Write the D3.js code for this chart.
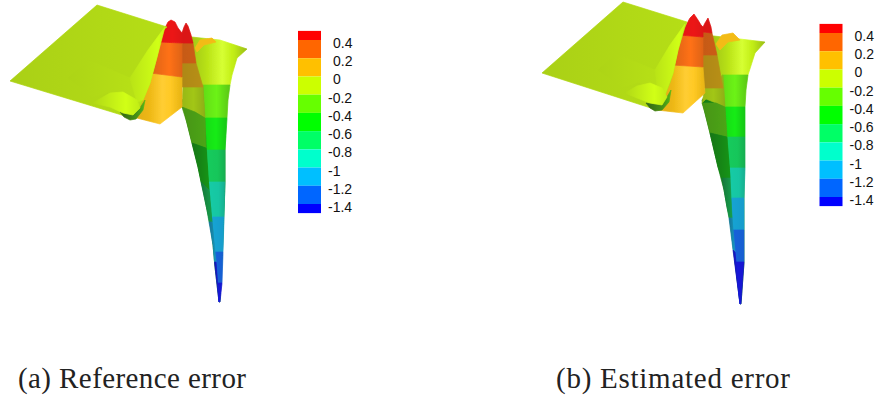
<!DOCTYPE html>
<html>
<head>
<meta charset="utf-8"/>
<title>Reference and estimated error</title>
<script src="https://d3js.org/d3.v7.min.js"></script>
<style>
    body { margin: 0; background: #fff; }
    .tick-label { font-family: "Liberation Sans"; font-size: 14px; fill: #111; }
    .caption { font-family: "Liberation Serif"; font-size: 29px; fill: #222; }
</style>
</head>
<body>
<svg id="chart" width="881" height="405"></svg>
<script>
// contour levels and their colours, lowest band first
var levels = [-1.4, -1.2, -1, -0.8, -0.6, -0.4, -0.2, 0, 0.2, 0.4];
var bandColors = ["#0000ff", "#0066ff", "#00bfff", "#00ffcc", "#00ff66", "#00ff00", "#66ff00", "#ccff00", "#ffc000", "#ff6600", "#ff0000"];
var barLimits = [-1.5, 0.5];
var captions = ["(a) Reference error", "(b) Estimated error"];

// contour band (z value) of each surface patch, in drawing order
var patchOrder = ["spike",
    "back", "backAmber", "face1", "face2", "face3", "face4", "face5", "face6", "face7",
    "hollow", "dark1", "dark2", "dark3", "dark4", "dark5",
    "ridgeOlive", "ridgeOrange", "ridgeRed",
    "colAmber", "colOrange", "colRed",
    "sheet", "plateau", "wedge", "curl", "bump"];
var patchZ = {
    spike: -0.5, sheet: -0.05, plateau: -0.05, wedge: -0.05, bump: -0.05, curl: -0.3,
    back: -0.05, backAmber: 0.1,
    face1: -0.3, face2: -0.5, face3: -0.7, face4: -0.9, face5: -1.1, face6: -1.3, face7: -1.45,
    hollow: -0.05, dark1: -0.3, dark2: -0.5, dark3: -0.7, dark4: -1.1, dark5: -1.45,
    ridgeOlive: 0.1, ridgeOrange: 0.3, ridgeRed: 0.45,
    colAmber: 0.1, colOrange: 0.3, colRed: 0.45
};

// surface outlines, x and y in plot units
var surfaceA = {
    spike: [[182,100],[205,85],[225,130],[225,183],[223,240],[220,302],[219,302],[215,267],[213,245],[210,223],[207,210],[203,190],[198,167],[193,147],[187,123]],
    sheet: [[97,5],[167,27],[163,30],[157,57],[150,83],[143,100],[138,110],[134,116],[125,116],[10,81]],
    plateau: [[68,78],[88,60],[130,78],[150,83],[140,105],[110,92],[92,97]],
    wedge: [[165,27],[157,57],[150,83],[143,100],[137,102],[130,78],[148,50]],
    bump: [[93,103],[110,93],[123,92],[137,100],[140,108],[133,115],[123,113],[110,107]],
    curl: [[120,112],[133,115],[140,108],[145,100],[143,110],[136,119],[130,120],[124,117]],
    back: [[182,36],[220,40],[247,49],[237,58],[232,75],[230,85],[185,88]],
    backAmber: [[195,48],[200,40],[212,38],[216,42],[204,45],[197,52]],
    face1: [[203,85],[230,85],[228,100],[227,118],[205,118]],
    face2: [[205,118],[227,118],[226,135],[225,150],[207,150]],
    face3: [[207,150],[225,150],[225,182],[209,182]],
    face4: [[209,182],[225,182],[224,217],[212,217]],
    face5: [[212,217],[224,217],[223,252],[215,252]],
    face6: [[215,252],[223,252],[222,283],[218,283]],
    face7: [[218,283],[222,283],[220,302],[219,302]],
    hollow: [[183,85],[203,85],[205,118],[195,112],[185,110],[182,107]],
    dark1: [[182,107],[195,112],[205,118],[206,148],[192,143],[187,123]],
    dark2: [[192,143],[206,148],[209,190],[201,182],[198,167]],
    dark3: [[201,182],[209,190],[212,222],[209,222],[207,210]],
    dark4: [[209,222],[212,222],[216,262],[214.5,262],[213,245]],
    dark5: [[214.5,262],[216,262],[219,302],[215,267]],
    ridgeOlive: [[182,63],[196,63],[203,87],[182,87]],
    ridgeOrange: [[182,43],[193,43],[196,63],[182,63]],
    ridgeRed: [[182,33],[184,27],[186,23],[188,26],[191,35],[193,43],[182,43]],
    colAmber: [[150,73],[182,77],[182,107],[160,124],[133,117],[130,112],[140,95]],
    colOrange: [[158,42],[182,43],[182,77],[150,73]],
    colRed: [[158,42],[165,28],[168,22],[171,20],[175,22],[178,28],[182,33],[182,43]]
};
var surfaceB = {
    spike: [[172,100],[192,75],[214,107],[214,197],[214,263],[211,304],[210,304],[205,263],[200,220],[197,207],[194,190],[188,167],[180,133],[175,113]],
    sheet: [[93,2],[157,22],[155,27],[148,50],[143,73],[140,83],[133,100],[128,108],[127,110],[12,73]],
    plateau: [[68,70],[86,54],[125,70],[143,73],[134,95],[108,82],[92,88]],
    wedge: [[155,24],[148,50],[143,73],[134,97],[128,92],[125,70],[140,45]],
    bump: [[95,93],[107,86],[120,83],[132,88],[137,97],[132,105],[120,103],[107,98]],
    curl: [[116,103],[132,105],[137,97],[141,90],[139,102],[132,110],[125,111],[120,108]],
    back: [[175,35],[210,39],[235,42],[225,53],[218,75],[176,78]],
    backAmber: [[186,44],[192,35],[203,33],[210,40],[198,42],[190,50]],
    face1: [[192,75],[218,75],[216,90],[215,107],[195,107]],
    face2: [[195,107],[215,107],[215,137],[197,137]],
    face3: [[197,137],[215,137],[215,168],[200,168]],
    face4: [[200,168],[215,168],[214,198],[201,198]],
    face5: [[201,198],[214,198],[214,230],[203,230]],
    face6: [[203,230],[214,230],[214,262],[205,262]],
    face7: [[205,262],[214,262],[211,304],[210,304]],
    hollow: [[175,88],[193,75],[195,107],[186,103],[176,99],[172,103]],
    dark1: [[172,103],[186,103],[195,107],[197,137],[180,133],[175,113]],
    dark2: [[180,133],[197,137],[200,178],[192,178],[188,167]],
    dark3: [[192,178],[200,178],[202,218],[199,218],[197,207]],
    dark4: [[199,218],[202,218],[205,252],[203,250]],
    dark5: [[203,250],[205,252],[210,304]],
    ridgeOlive: [[173,55],[187,55],[193,88],[173,88]],
    ridgeOrange: [[173,32],[182,33],[187,55],[173,55]],
    ridgeRed: [[173,27],[175,23],[178,18],[181,27],[182,33],[173,32]],
    colAmber: [[142,65],[173,67],[175,93],[153,113],[127,110],[124,105],[134,88]],
    colOrange: [[149,35],[173,37],[173,67],[142,65]],
    colRed: [[149,35],[155,27],[160,18],[164,14],[168,20],[171,25],[173,27],[173,37]]
};

// lighting across each patch: offset, brightness (above 1 goes towards white)
var patchShade = {
    spike: [[0, 0.45], [1, 0.5]],
    sheet: [[0, 0.8], [0.6, 0.84], [1, 0.86]],
    plateau: [[0, 0.82], [1, 0.88]],
    wedge: [[0, 0.88], [0.8, 1.0], [1, 0.96]],
    bump: [[0, 0.84], [0.7, 1.02], [1, 0.92]],
    curl: [[0, 0.35], [0.7, 0.55], [1, 0.7]],
    back: [[0, 0.7], [0.35, 0.86], [0.62, 1.14], [0.8, 0.92], [1, 0.72]],
    backAmber: [[0, 0.95], [1, 0.95]],
    face1: [[0, 0.85], [0.5, 0.95], [1, 0.76]],
    face2: [[0, 0.85], [0.5, 0.92], [1, 0.76]],
    face3: [[0, 0.78], [0.6, 0.76], [1, 0.66]],
    face4: [[0, 0.78], [0.6, 0.76], [1, 0.66]],
    face5: [[0, 0.82], [1, 0.78]],
    face6: [[0, 0.85], [1, 0.8]],
    face7: [[0, 0.85], [1, 0.8]],
    hollow: [[0, 0.7], [0.5, 0.76], [1, 0.66]],
    dark1: [[0, 0.55], [1, 0.62]],
    dark2: [[0, 0.42], [1, 0.55]],
    dark3: [[0, 0.42], [1, 0.6]],
    dark4: [[0, 0.55], [1, 0.75]],
    dark5: [[0, 0.7], [1, 0.85]],
    ridgeOlive: [[0, 0.66], [1, 0.7]],
    ridgeOrange: [[0, 0.76], [1, 0.78]],
    ridgeRed: [[0, 0.85], [1, 0.85]],
    colAmber: [[0, 0.86], [0.35, 0.92], [0.62, 1.14], [0.78, 1.08], [1, 0.9]],
    colOrange: [[0, 0.84], [0.6, 1.0], [1, 0.86]],
    colRed: [[0, 0.88], [0.6, 0.92], [1, 0.86]]
};

var bandColor = d3.scaleThreshold().domain(levels).range(bandColors);
var svg = d3.select("#chart");
var defs = svg.append("defs");
defs.append("filter").attr("id", "soft")
    .attr("x", "-5%").attr("y", "-5%").attr("width", "110%").attr("height", "110%")
    .append("feGaussianBlur").attr("stdDeviation", 0.7);

function shaded(color, f) {
    var c = d3.rgb(color);
    var r = f <= 1 ? c.r * f : c.r + (255 - c.r) * (f - 1);
    var g = f <= 1 ? c.g * f : c.g + (255 - c.g) * (f - 1);
    var b = f <= 1 ? c.b * f : c.b + (255 - c.b) * (f - 1);
    // the plot lighting never quite reaches full saturation
    return d3.rgb(r + (255 - r) * 0.07, g + (255 - g) * 0.07, b + (255 - b) * 0.07).formatHex();
}

function drawSurface(surface, id, left) {
    var x = d3.scaleLinear().domain([0, 300]).range([left, left + 300]);
    var y = d3.scaleLinear().domain([0, 400]).range([0, 400]);
    var line = d3.line().x(function(d) { return x(d[0]); }).y(function(d) { return y(d[1]); })
        .curve(d3.curveLinear);
    var group = svg.append("g").attr("filter", "url(#soft)");

    patchOrder.forEach(function(name) {
        var base = bandColor(patchZ[name]);
        var gradId = id + "-" + name;
        var grad = defs.append("linearGradient").attr("id", gradId);
        grad.selectAll("stop").data(patchShade[name]).enter().append("stop")
            .attr("offset", function(d) { return d[0]; })
            .attr("stop-color", function(d) { return shaded(base, d[1]); });
        group.append("path")
            .attr("d", line(surface[name]) + "Z")
            .attr("fill", "url(#" + gradId + ")")
            .attr("stroke", "url(#" + gradId + ")")
            .attr("stroke-width", 0.7)
            .attr("stroke-linejoin", "round");
    });
}

function drawBar(left, top) {
    var edges = [barLimits[1]].concat(levels.slice().reverse(), [barLimits[0]]);
    var y = d3.scaleLinear().domain([0.4, -1.4]).range([top, top + 164]);
    var g = svg.append("g");
    g.selectAll("rect").data(d3.pairs(edges)).enter().append("rect")
        .attr("x", left).attr("width", 23)
        .attr("y", function(d) { return y(d[0]); })
        .attr("height", function(d) { return y(d[1]) - y(d[0]); })
        .attr("fill", function(d) { return bandColor((d[0] + d[1]) / 2); });
    g.selectAll("text").data(levels).enter().append("text")
        .attr("class", "tick-label")
        .attr("x", function(d) { return left + (d < 0 ? 30 : 35); })
        .attr("y", function(d) { return y(d) + 8; })
        .text(function(d) { return d3.format("")(d).replace("\u2212", "-"); });
}

drawSurface(surfaceA, "a", 0);
drawSurface(surfaceB, "b", 530);
drawBar(298, 40);
drawBar(819.5, 33);

svg.selectAll(".caption").data(captions).enter().append("text")
    .attr("class", "caption")
    .attr("x", function(d, i) { return i == 0 ? 18 : 556; })
    .attr("y", 388)
    .attr("textLength", function(d, i) { return i == 0 ? 228 : 234; })
    .text(function(d) { return d; });
</script>
</body>
</html>
